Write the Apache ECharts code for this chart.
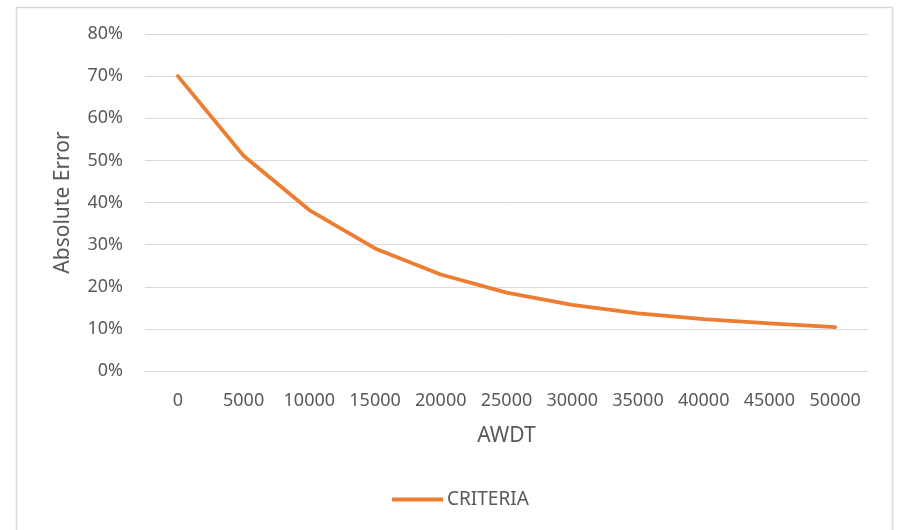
<!DOCTYPE html>
<html>
<head>
<meta charset="utf-8">
<script src="https://cdn.jsdelivr.net/npm/echarts@6/dist/echarts.min.js"></script>
<style>
html,body{margin:0;padding:0;background:#fff;}
#chart{width:897px;height:530px;}
</style>
</head>
<body>
<div id="chart"></div>
<script>
const categories = ['0','5000','10000','15000','20000','25000','30000','35000','40000','45000','50000'];
const criteriaValues = [0.70, 0.511, 0.382, 0.291, 0.229, 0.186, 0.157, 0.137, 0.123, 0.113, 0.104];
const yTickValues = [0, 0.1, 0.2, 0.3, 0.4, 0.5, 0.6, 0.7, 0.8];

const FONT = '"Noto Sans", sans-serif';
const TXT = '#595959';
const chart = echarts.init(document.getElementById('chart'));
chart.setOption({
  backgroundColor: '#ffffff',
  animation: false,
  graphic: [{
    type: 'rect',
    shape: { x: 16.5, y: 7.5, width: 876, height: 540 },
    style: { fill: 'none', stroke: '#D9D9D9', lineWidth: 1.5 },
    silent: true
  }],
  grid: { left: 145, right: 29, top: 34, bottom: 159 },
  legend: {
    bottom: 16,
    left: 387,
    icon: 'rect',
    itemWidth: 51,
    itemHeight: 4,
    itemGap: 10,
    textStyle: { color: TXT, fontFamily: FONT, fontSize: 19, padding: [0,0,0,-1] },
    data: ['CRITERIA']
  },
  xAxis: {
    type: 'category',
    data: categories,
    boundaryGap: true,
    name: 'AWDT',
    nameLocation: 'middle',
    nameGap: 55,
    nameTextStyle: { color: TXT, fontFamily: FONT, fontSize: 21 },
    axisLine: { lineStyle: { color: '#D9D9D9', width: 1 } },
    axisTick: { show: false },
    axisLabel: { color: TXT, fontFamily: FONT, fontSize: 18, margin: 21, interval: 0 }
  },
  yAxis: {
    type: 'value',
    min: 0,
    max: 0.8,
    interval: 0.1,
    name: 'Absolute Error',
    nameLocation: 'middle',
    nameGap: 71,
    nameTextStyle: { color: TXT, fontFamily: FONT, fontSize: 21 },
    axisLine: { show: false },
    axisTick: { show: false },
    splitLine: { lineStyle: { color: '#D9D9D9', width: 1 } },
    axisLabel: {
      color: TXT, fontFamily: FONT, fontSize: 18, margin: 22,
      formatter: v => {
        const m = yTickValues.find(t => Math.abs(t - v) < 1e-9);
        return Math.round((m !== undefined ? m : v) * 100) + '%';
      }
    }
  },
  series: [{
    name: 'CRITERIA',
    type: 'line',
    data: criteriaValues,
    symbol: 'none',
    lineStyle: { color: '#ED7D31', width: 3.8, cap: 'round', join: 'round' },
    itemStyle: { color: '#ED7D31' }
  }]
});
</script>
</body>
</html>
